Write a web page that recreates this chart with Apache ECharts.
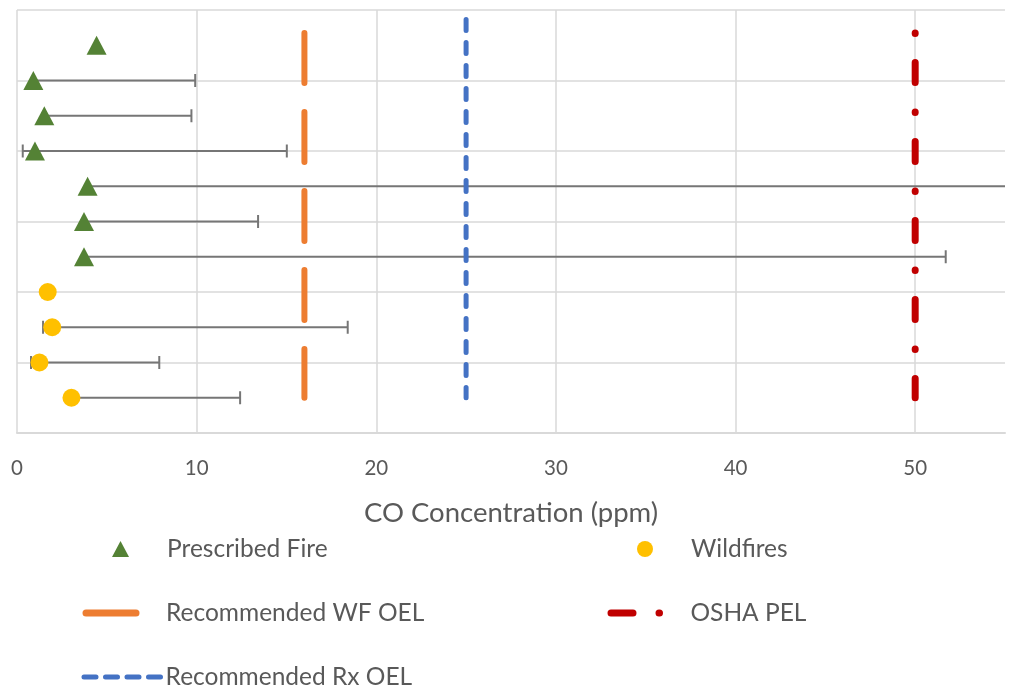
<!DOCTYPE html>
<html>
<head>
<meta charset="utf-8">
<script src="https://cdn.jsdelivr.net/npm/echarts@6/dist/echarts.min.js"></script>
<style>html,body{margin:0;padding:0;background:#fff}#c{width:1016px;height:687px}</style>
</head>
<body>
<div id="c"></div>
<script>
// ---- data ----
const xTicks = [0, 10, 20, 30, 40, 50];
// Prescribed fire: [mean, y-row]
const rxPoints = [[4.43, 11], [0.91, 10], [1.52, 9], [1.0, 8], [3.93, 7], [3.73, 6], [3.73, 5]];
// Wildfires: [mean, y-row]
const wfPoints = [[1.71, 4], [1.96, 3], [1.25, 2], [3.03, 1]];
// error bars: [low, high, y-row]
const errorBars = [
  [0.91, 9.92, 10], [1.52, 9.71, 9], [0.32, 15.02, 8], [3.93, 60, 7],
  [3.73, 13.42, 6], [3.73, 51.7, 5], [1.45, 18.41, 3], [0.78, 7.92, 2], [3.03, 12.42, 1]
];
const wfOel = [[16, 11.35], [16, 1]];
const rxOel = [[25, 11.73], [25, 1]];
const oshaPel = [[50, 11.35], [50, 1]];

const FONT = 'Lato';
const TXT = '#595959';
const chart = echarts.init(document.getElementById('c'), null, {renderer: 'canvas'});

function legendBox(name, left, top, w, h, pad, extra) {
  return Object.assign({
    data: [name], left: left, top: top, padding: 0, orient: 'horizontal',
    itemWidth: w, itemHeight: h, selectedMode: false,
    formatter: n => '{s|}' + n,
    textStyle: {fontFamily: FONT, fontSize: 24.5, color: TXT, lineHeight: 28,
      rich: {s: {width: pad, lineHeight: 28}}}
  }, extra || {});
}

chart.setOption({
  animation: false,
  grid: {left: 17, right: 11, top: 10, bottom: 254, containLabel: false},
  xAxis: {
    type: 'value', min: 0, max: 55, interval: 10,
    name: 'CO Concentration (ppm)', nameLocation: 'middle', nameGap: 64,
    nameTextStyle: {fontFamily: FONT, fontSize: 27.5, color: TXT, lineHeight: 32},
    axisLine: {show: true, lineStyle: {color: '#d9d9d9', width: 2}},
    axisTick: {show: false},
    axisLabel: {fontFamily: FONT, fontSize: 20.5, color: TXT, margin: 22, lineHeight: 26,
      formatter: v => (xTicks.indexOf(v) >= 0 ? String(v) : '')},
    splitLine: {show: true, showMaxLine: false, lineStyle: {color: '#d9d9d9', width: 1.5}}
  },
  yAxis: {
    type: 'value', min: 0, max: 12, interval: 2,
    axisLine: {show: false}, axisTick: {show: false}, axisLabel: {show: false},
    splitLine: {show: true, lineStyle: {color: '#d9d9d9', width: 1.5}}
  },
  legend: [
    legendBox('Prescribed Fire', 112, 535, 17, 16, 33),
    legendBox('Wildfires', 637, 535, 16, 16, 33),
    legendBox('Recommended WF OEL', 82.5, 599, 50, 14, 25,
      {itemStyle: {opacity: 0}, lineStyle: {color: '#ED7D31', width: 7, type: 'solid', cap: 'round'}}),
    legendBox('OSHA PEL', 607.5, 599, 51, 14, 23.5,
      {itemStyle: {opacity: 0}, lineStyle: {color: '#C00000', width: 7, type: [22, 26, 0.5, 100], cap: 'round'}}),
    legendBox('Recommended Rx OEL', 81.5, 663, 76.5, 14, 0.1,
      {itemStyle: {opacity: 0}, lineStyle: {color: '#4472C4', width: 5, type: [12, 9.5], cap: 'round'}})
  ],
  series: [
    {
      type: 'custom', name: 'err', z: 2, silent: true,
      data: errorBars,
      encode: {x: [0, 1], y: 2},
      renderItem: function (params, api) {
        const y = api.value(2);
        const a = api.coord([api.value(0), y]);
        const b = api.coord([api.value(1), y]);
        const cs = params.coordSys;
        const right = cs.x + cs.width;
        const style = {stroke: '#767676', lineWidth: 2};
        const children = [];
        const bx = Math.min(b[0], right);
        children.push({type: 'line', shape: {x1: a[0], y1: a[1], x2: bx, y2: b[1]}, style: style});
        children.push({type: 'line', shape: {x1: a[0], y1: a[1] - 6.5, x2: a[0], y2: a[1] + 6.5}, style: style});
        if (b[0] <= right) {
          children.push({type: 'line', shape: {x1: b[0], y1: b[1] - 6.5, x2: b[0], y2: b[1] + 6.5}, style: style});
        }
        return {type: 'group', children: children};
      }
    },
    {
      type: 'line', name: 'Recommended WF OEL', data: wfOel, symbol: 'none', z: 3, silent: true,
      lineStyle: {color: '#ED7D31', width: 6, type: [50, 29], cap: 'round'},
      itemStyle: {color: '#ED7D31'}
    },
    {
      type: 'line', name: 'Recommended Rx OEL', data: rxOel, symbol: 'none', z: 3, silent: true,
      lineStyle: {color: '#4472C4', width: 5, type: [11, 12], cap: 'round'},
      itemStyle: {color: '#4472C4'}
    },
    {
      type: 'line', name: 'OSHA PEL', data: oshaPel, symbol: 'none', z: 3, silent: true,
      lineStyle: {color: '#C00000', width: 7, type: [0.5, 29, 20, 29.5], cap: 'round'},
      itemStyle: {color: '#C00000'}
    },
    {
      type: 'scatter', name: 'Prescribed Fire', data: rxPoints, symbol: 'triangle', symbolSize: [20, 19], z: 4,
      itemStyle: {color: '#548235', opacity: 1}
    },
    {
      type: 'scatter', name: 'Wildfires', data: wfPoints, symbol: 'circle', symbolSize: 18, z: 4,
      itemStyle: {color: '#FFC000', opacity: 1}
    }
  ]
});
</script>
</body>
</html>
